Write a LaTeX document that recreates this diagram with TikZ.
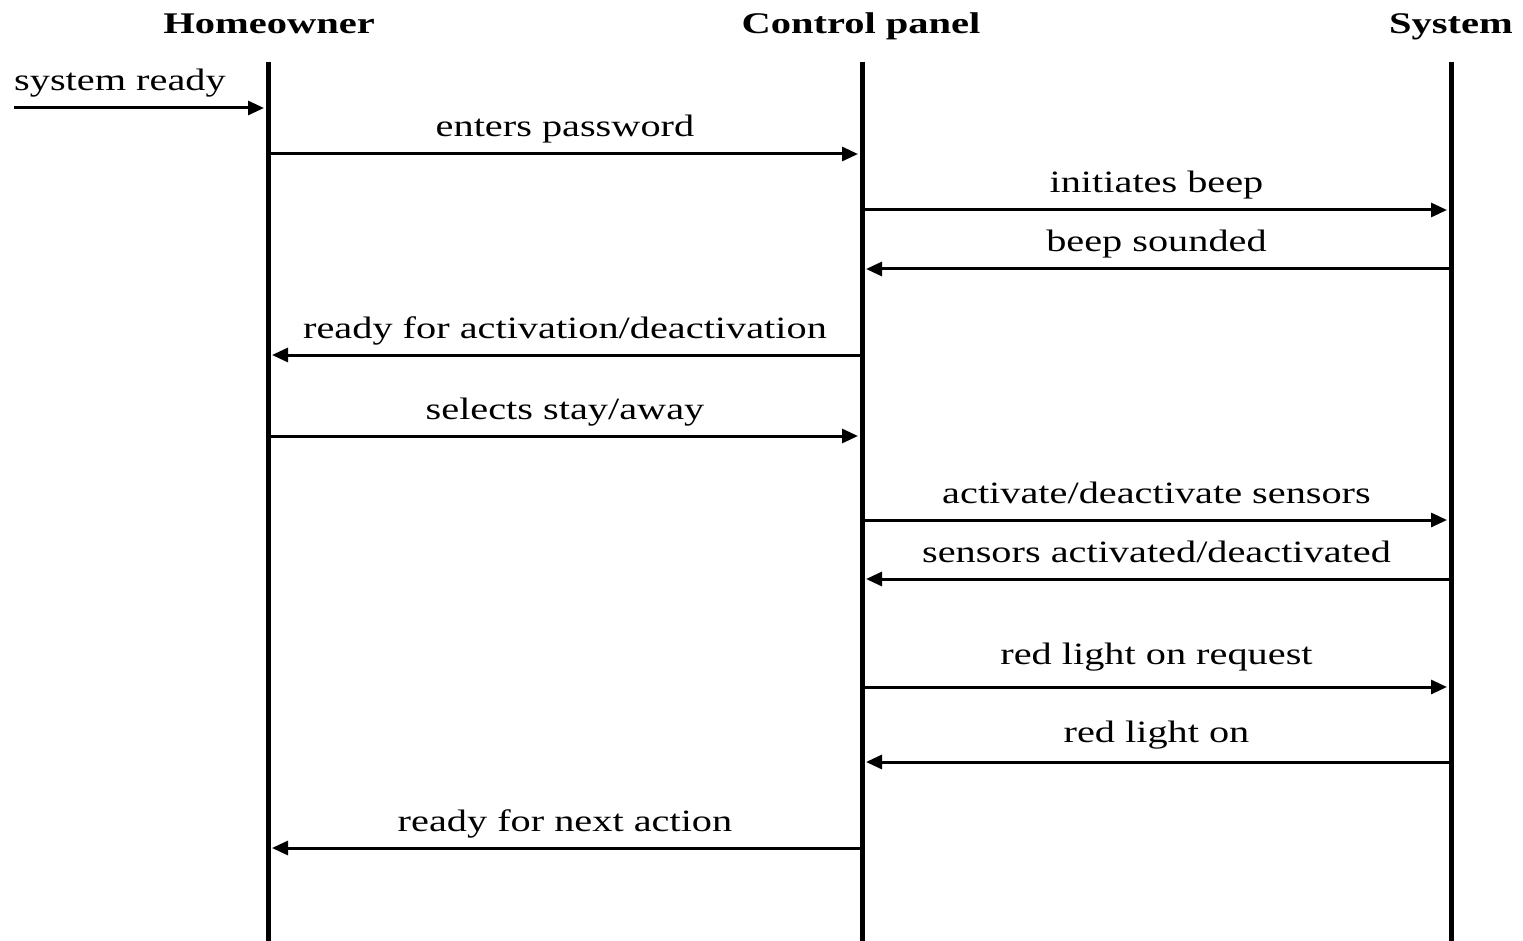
\documentclass[tikz,border=0pt]{standalone}
\usepackage{fontspec}
\setmainfont{Liberation Serif}
\newfontfamily\lblfont[FakeStretch=1.3]{Liberation Serif}
\newfontfamily\hdrfont[FakeStretch=1.35]{Liberation Serif}
\usetikzlibrary{arrows.meta,calc}
\tikzset{
  lifeline/.style={line width=5pt},
  msg/.style={line width=3pt,-{Triangle[length=16pt,width=14pt]},shorten >=4pt},
  hdr/.style={anchor=base,inner sep=0pt,font=\hdrfont\bfseries\fontsize{30}{30}\selectfont},
  lbl/.style={anchor=base,inner sep=0pt,font=\lblfont\fontsize{31}{31}\selectfont},
}
\begin{document}
\begin{tikzpicture}[x=1pt,y=-1pt]
\useasboundingbox (0,0) rectangle (1523,941);

% actors
\node[hdr] (hHome) at (269,34) {Homeowner};
\node[hdr] (hPanel) at (861,34) {Control panel};
\node[hdr] (hSys) at (1451,34) {System};

% lifelines
\coordinate (homeTop) at (268,62);   \coordinate (homeBot) at (268,941);
\coordinate (panelTop) at (862,62);  \coordinate (panelBot) at (862,941);
\coordinate (sysTop) at (1451,62);   \coordinate (sysBot) at (1451,941);
\draw[lifeline] (homeTop) -- (homeBot);
\draw[lifeline] (panelTop) -- (panelBot);
\draw[lifeline] (sysTop) -- (sysBot);

% points where messages meet the lifelines
\coordinate (start) at (14,108);
\foreach \n/\y in {a/108,b/154,c/210,d/269,e/355,f/436,g/520,h/579,i/687,j/762,k/848}{
  \coordinate (H\n) at (268,\y);
  \coordinate (P\n) at (862,\y);
  \coordinate (S\n) at (1451,\y);
}

% messages
\draw[msg] (start) -- (Ha);
\node[lbl,anchor=base west] (ma) at (14,91) {system ready};

\draw[msg] (Hb) -- (Pb);
\node[lbl] (mb) at ($(Hb)!0.5!(Pb)+(0,-17)$) {enters password};

\draw[msg] (Pc) -- (Sc);
\node[lbl] (mc) at ($(Pc)!0.5!(Sc)+(0,-17)$) {initiates beep};

\draw[msg] (Sd) -- (Pd);
\node[lbl] (md) at ($(Pd)!0.5!(Sd)+(0,-17)$) {beep sounded};

\draw[msg] (Pe) -- (He);
\node[lbl] (me) at ($(He)!0.5!(Pe)+(0,-17)$) {ready for activation/deactivation};

\draw[msg] (Hf) -- (Pf);
\node[lbl] (mf) at ($(Hf)!0.5!(Pf)+(0,-17)$) {selects stay/away};

\draw[msg] (Pg) -- (Sg);
\node[lbl] (mg) at ($(Pg)!0.5!(Sg)+(0,-17)$) {activate/deactivate sensors};

\draw[msg] (Sh) -- (Ph);
\node[lbl] (mh) at ($(Ph)!0.5!(Sh)+(0,-17)$) {sensors activated/deactivated};

\draw[msg] (Pi) -- (Si);
\node[lbl] (mi) at ($(Pi)!0.5!(Si)+(0,-23)$) {red light on request};

\draw[msg] (Sj) -- (Pj);
\node[lbl] (mj) at ($(Pj)!0.5!(Sj)+(0,-20)$) {red light on};

\draw[msg] (Pk) -- (Hk);
\node[lbl] (mk) at ($(Hk)!0.5!(Pk)+(0,-17)$) {ready for next action};
\end{tikzpicture}
\end{document}
